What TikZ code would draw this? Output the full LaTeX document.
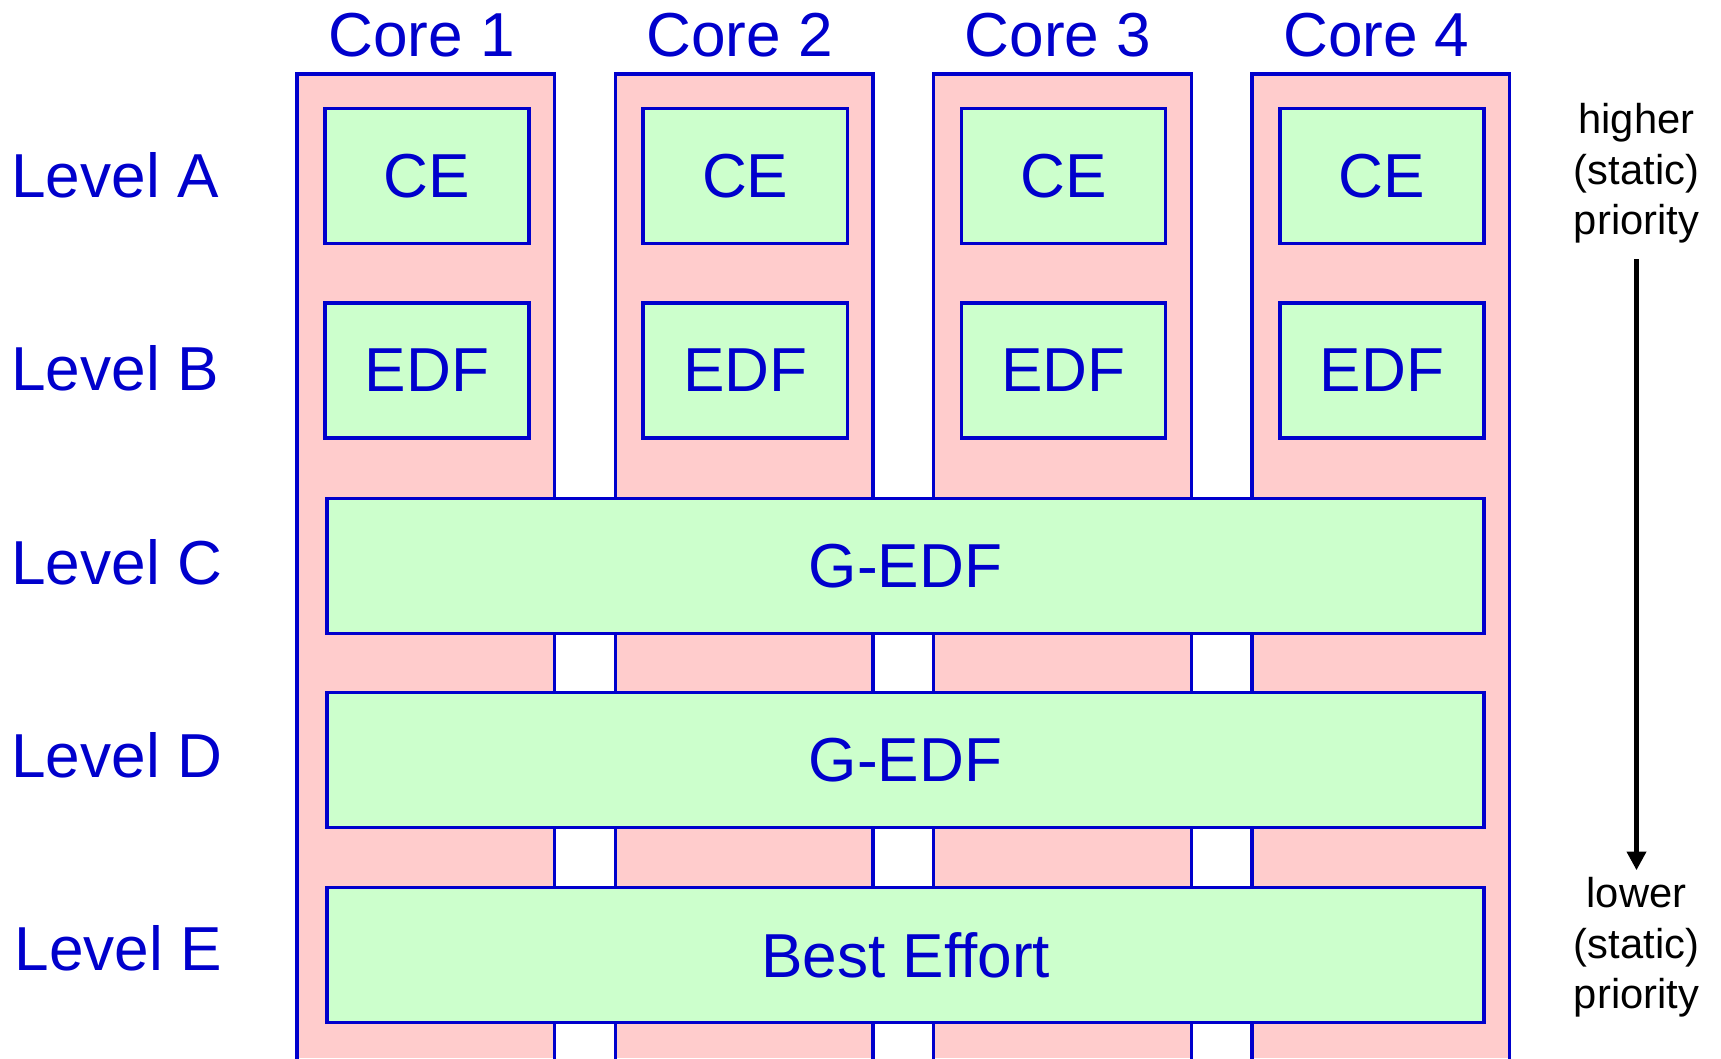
\documentclass[tikz,border=0pt]{standalone}
\usepackage{fontspec}
\setmainfont{Liberation Sans}
\usetikzlibrary{arrows.meta}
\definecolor{ink}{RGB}{0,0,204}
\definecolor{corefill}{RGB}{255,204,204}
\definecolor{schedfill}{RGB}{204,255,204}
\newcommand\lblfont{\fontsize{28.3}{34}\selectfont}
\newcommand\priofont{\fontsize{19}{23}\selectfont}
\tikzset{
  corecol/.style={fill=corefill, inner sep=0, minimum width=117pt, minimum height=448pt},
  coreedge/.style={draw=ink, line width=1.6pt},
  sched/.style={draw=ink, line width=1.6pt, fill=schedfill, inner sep=0,
                minimum height=61.5pt, text=ink, font=\lblfont},
  percore/.style={sched, minimum width=93pt},
  global/.style={sched, minimum width=527pt},
  lvl/.style={anchor=west, text=ink, font=\lblfont, inner sep=0},
  corelabel/.style={text=ink, font=\lblfont, inner sep=0},
  prio/.style={align=center, font=\priofont, inner sep=0},
  prioarrow/.style={line width=2.2pt, -{Triangle[width=8.5pt,length=8.5pt]},
                    shorten <=7pt, shorten >=3pt},
}
\begin{document}
\begin{tikzpicture}[x=0.5pt, y=-0.5pt]
\useasboundingbox (0,0) rectangle (1568,964);

% four cores: column, caption, and the two partitioned levels
\foreach \i/\cx in {1/388,2/678,3/968,4/1258}{
  \node[corecol] (col\i) at (\cx,516) {};
  \draw[coreedge] (col\i.south west) -- (col\i.north west)
                  -- (col\i.north east) -- (col\i.south east);
  \node[corelabel] (core\i) at ({\cx-4},32) {Core \i};
  \node[percore] (ce\i) at ({\cx+1},160.5) {CE};
  \node[percore] (edf\i) at ({\cx+1},337.5) {EDF};
}

% global levels spanning all cores
\node[global] (lc) at (825,515.5) {G-EDF};
\node[global] (ld) at (825,692.5) {G-EDF};
\node[global] (le) at (825,870) {Best Effort};

% level captions
\node[lvl] (la) at (10,160) {Level A};
\node[lvl] (lb) at (10,336) {Level B};
\node[lvl] (lcl) at (10,512) {Level C};
\node[lvl] (ldl) at (10,688) {Level D};
\node[lvl] (lel) at (13,864) {Level E};

% priority direction
\node[prio] (hi) at (1491,158) {higher\\(static)\\priority};
\node[prio] (lo) at (1491,863) {lower\\(static)\\priority};
\draw[prioarrow] (hi.south) -- (hi.south |- lo.north);
\end{tikzpicture}
\end{document}
